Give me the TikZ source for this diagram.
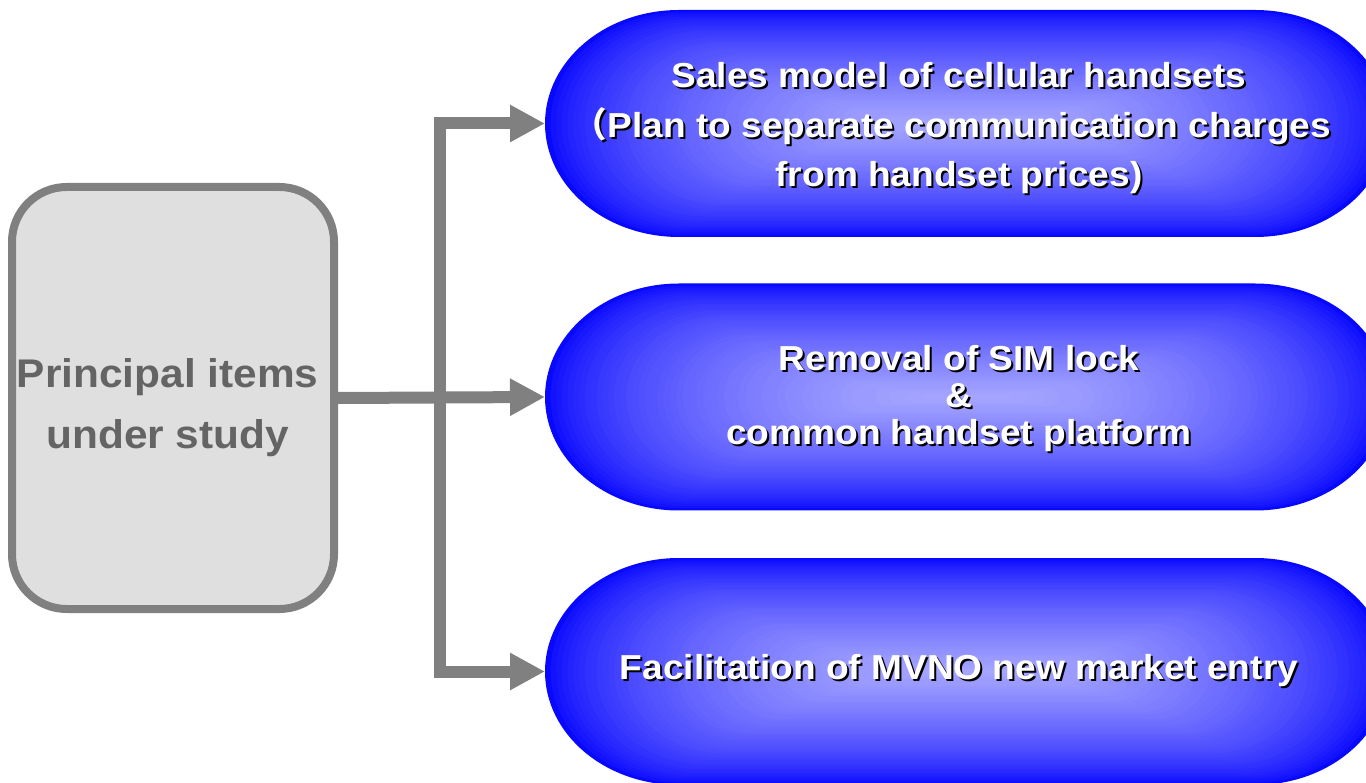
\documentclass[tikz,border=0pt]{standalone}
\usepackage{fontspec}
\setmainfont{Liberation Sans}
\newfontfamily\ovalfont{Liberation Sans}[FakeStretch=1.07]
\newfontfamily\boxfont{Liberation Sans}[FakeStretch=1.06]
\newfontfamily\cjkfont{Noto Sans CJK JP}
\usetikzlibrary{arrows.meta,calc}

\definecolor{linegray}{RGB}{128,128,128}
\definecolor{boxfill}{RGB}{223,223,223}
\definecolor{boxtext}{RGB}{100,100,100}
\definecolor{glowcenter}{RGB}{168,168,255}
\definecolor{glowedge}{RGB}{8,8,255}

% white text with a small black drop shadow
\newcommand\shd[1]{\rlap{\kern1.5pt\raisebox{-1.5pt}{\textcolor{black}{#1}}}#1}

% stadium with elliptical ends, filled with a centre glow
% (nested contours, blue rim fading to a pale centre)
\newcommand\glowoval[1]{%
  \begin{scope}[shift={(#1.center)}]
    \foreach \i in {0,...,49}{
      \pgfmathsetmacro\s{1-\i/50}
      \pgfmathsetmacro\L{288*sqrt(\s)}
      \pgfmathtruncatemacro\mix{100*((\i+0.01)/50)^0.7}
      \fill[glowcenter!\mix!glowedge]
        (-\L,113.5*\s) -- (\L,113.5*\s)
        arc[start angle=90,end angle=-90,x radius=134*\s,y radius=113.5*\s]
        -- (-\L,-113.5*\s)
        arc[start angle=270,end angle=90,x radius=134*\s,y radius=113.5*\s]
        -- cycle;
    }
  \end{scope}}

\tikzset{
  pbox/.style={draw=linegray, fill=boxfill, line width=6pt, rounded corners=41pt,
    minimum width=241.5pt, minimum height=316.5pt},
  boxlabel/.style={align=center, text=boxtext, inner sep=0pt,
    font=\boxfont\bfseries\fontsize{30}{45.75}\selectfont},
  ovalslot/.style={minimum width=633pt, minimum height=170.25pt, inner sep=0pt, outer sep=0pt},
  ovaltext/.style={align=center, text=white, inner sep=0pt},
  bigtip/.tip={Triangle[length=26.25pt,width=26.25pt]},
  feed/.style={draw=linegray, line width=9pt, -bigtip},
  branch/.style={draw=linegray, line width=9pt, bigtip-bigtip},
}

\begin{document}
\begin{tikzpicture}[x=0.75pt,y=0.75pt]
  \path[use as bounding box, clip] (0,0) rectangle (1366,782);
  \fill[white] (0,0) rectangle (1366,782);

  % target areas on the right
  \node[ovalslot] (o1) at (967,658.5) {};
  \node[ovalslot] (o2) at (967,385) {};
  \node[ovalslot] (o3) at (967,110.5) {};
  \glowoval{o1}
  \glowoval{o2}
  \glowoval{o3}

  \node[ovaltext, font=\ovalfont\bfseries\fontsize{26}{37.1}\selectfont] (t1) at (959,652.5)
    {\shd{Sales model of cellular handsets}\\
     \shd{{\cjkfont （}Plan to separate communication charges\kern10.5pt}\\
     \shd{from handset prices)}};
  \node[ovaltext, font=\ovalfont\bfseries\fontsize{26}{27.75}\selectfont] (t2) at (959,382.5)
    {\shd{Removal of SIM lock}\\
     \shd{\&}\\
     \shd{common handset platform}};
  \node[ovaltext, font=\ovalfont\bfseries\fontsize{26}{30}\selectfont] (t3) at (959,110)
    {\shd{Facilitation of MVNO new market entry}};

  % source box
  \node[pbox] (box) at (173,384) {};
  \node[boxlabel] (lbl) at ([xshift=-4pt,yshift=-7pt]box.center) {Principal items\\under study};

  % connectors
  \coordinate (spine) at (440,384);
  \draw[branch] (o1.west) -- (o1.west -| spine) -- (o3.west -| spine) -- (o3.west);
  \draw[feed] (box.east) -- (o2.west);
\end{tikzpicture}
\end{document}
